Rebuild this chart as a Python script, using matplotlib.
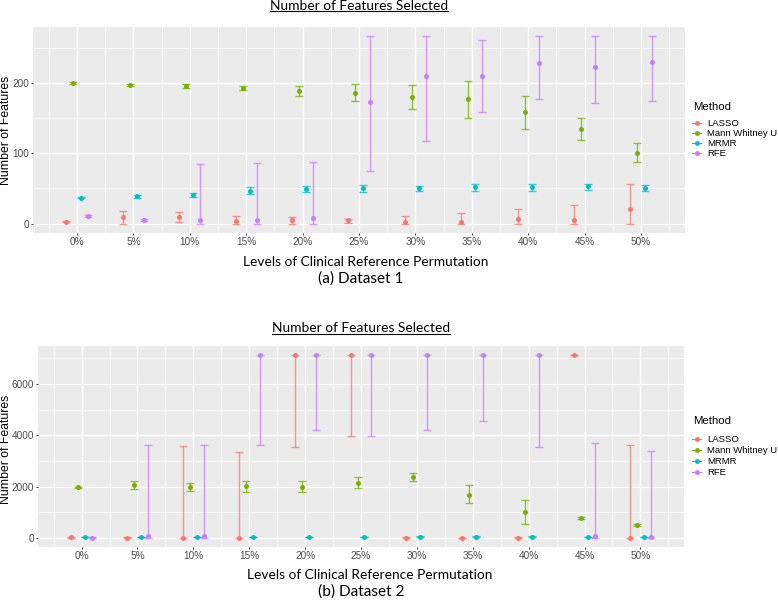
import matplotlib
matplotlib.use('Agg')
import matplotlib.pyplot as plt
from matplotlib.lines import Line2D
import numpy as np

# ---------------- data ----------------
levels = ['0%', '5%', '10%', '15%', '20%', '25%', '30%', '35%', '40%', '45%', '50%']
methods = ['LASSO', 'Mann Whitney U', 'MRMR', 'RFE']
colors = ['#F8766D', '#7CAE00', '#00BFC4', '#C77CFF']

# Dataset 1
d1_lasso_mean = [3, 9, 10, 4, 5, 5, 2, 2, 7, 5, 21]
d1_lasso_lo = [2, 0, 3, 0, 0, 1, 0, 0, 0, 0, 0]
d1_lasso_hi = [4, 18, 17, 11, 10, 7, 11, 15, 21, 26, 56]
d1_mwu_mean = [200, 197.5, 195.5, 193, 188.5, 186, 180, 176.5, 158, 134, 101]
d1_mwu_lo = [199, 196, 193, 190, 181, 174, 163, 150, 134, 118.5, 87.5]
d1_mwu_hi = [201, 199, 198, 195, 196, 198.5, 197.5, 202.5, 182, 150, 114]
d1_mrmr_mean = [37, 39, 41, 47, 49, 50.5, 50, 52.5, 52.5, 53, 50.5]
d1_mrmr_lo = [36, 37, 38, 42, 45, 45.5, 46, 47, 47, 48, 46]
d1_mrmr_hi = [38, 41, 44, 51.5, 53, 55.5, 54, 57, 57, 57, 55]
d1_rfe_mean = [11, 5, 5, 5, 8, 173, 210, 210, 228, 222, 229]
d1_rfe_lo = [10, 4, 0, 0, 0, 75, 117, 159, 177, 171, 174]
d1_rfe_hi = [12, 6, 85, 86, 88, 266, 266, 261, 266, 266, 266]

# Dataset 2
d2_lasso_mean = [20, 10, 10, 10, 7129, 7129, 10, 0, 10, 7129, 5]
d2_lasso_lo = [10, 0, 0, 0, 3550, 3965, 0, 0, 0, 7129, 0]
d2_lasso_hi = [30, 20, 3590, 3360, 7129, 7129, 20, 10, 20, 7129, 3630]
d2_mwu_mean = [1970, 2070, 2000, 2010, 1985, 2150, 2370, 1685, 1025, 780, 505]
d2_mwu_lo = [1940, 1920, 1810, 1800, 1775, 1930, 2230, 1350, 560, 740, 460]
d2_mwu_hi = [2000, 2200, 2160, 2230, 2205, 2360, 2515, 2050, 1495, 820, 550]
d2_mrmr_mean = [40, 40, 40, 40, 40, 40, 45, 45, 45, 40, 40]
d2_mrmr_lo = [30, 30, 30, 30, 30, 30, 35, 35, 35, 30, 30]
d2_mrmr_hi = [50, 50, 50, 50, 50, 50, 55, 55, 55, 50, 50]
d2_rfe_mean = [10, 75, 60, 7129, 7129, 7129, 7129, 7129, 7129, 60, 45]
d2_rfe_lo = [0, 0, 0, 3640, 4210, 3965, 4210, 4540, 3550, 0, 0]
d2_rfe_hi = [20, 3630, 3610, 7129, 7129, 7129, 7129, 7129, 7129, 3700, 3385]

d1_yticks = [0, 100, 200]
d1_yminor = [50, 150, 250]
d2_yticks = [0, 2000, 4000, 6000]
d2_yminor = [1000, 3000, 5000, 7000]

data1 = [(d1_lasso_mean, d1_lasso_lo, d1_lasso_hi), (d1_mwu_mean, d1_mwu_lo, d1_mwu_hi),
         (d1_mrmr_mean, d1_mrmr_lo, d1_mrmr_hi), (d1_rfe_mean, d1_rfe_lo, d1_rfe_hi)]
data2 = [(d2_lasso_mean, d2_lasso_lo, d2_lasso_hi), (d2_mwu_mean, d2_mwu_lo, d2_mwu_hi),
         (d2_mrmr_mean, d2_mrmr_lo, d2_mrmr_hi), (d2_rfe_mean, d2_rfe_lo, d2_rfe_hi)]

# ---------------- layout ----------------
W, H = 778, 609
fig = plt.figure(figsize=(W / 100, H / 100), dpi=100)
fig.patch.set_facecolor('white')

def fx(px):
    return px / W

def fy(py):
    return 1 - py / H

TICKFONT = 'Liberation Sans'
CAPFONT = ['Lato', 'DejaVu Sans']

ax1 = fig.add_axes([fx(33), fy(233), fx(685) - fx(33), fy(27) - fy(233)])
ax2 = fig.add_axes([fx(38), fy(547), fx(684) - fx(38), fy(346) - fy(547)])

offsets = [-0.1875, -0.0625, 0.0625, 0.1875]


def draw(ax, data, yticks, yminor):
    ax.set_facecolor('#EBEBEB')
    for s in ax.spines.values():
        s.set_visible(False)
    x = np.arange(len(levels))
    for k, (mean, lo, hi) in enumerate(data):
        mean = np.array(mean, float)
        lo = np.array(lo, float)
        hi = np.array(hi, float)
        xs = x + offsets[k]
        cont = ax.errorbar(xs, mean, yerr=[mean - lo, hi - mean], fmt='none',
                           ecolor=colors[k], elinewidth=1.0, capsize=2.6, capthick=1.0,
                           alpha=0.75, zorder=3)
        for lc in cont[2]:
            lc.set_snap(True)
        ax.plot(xs, mean, 'o', color=colors[k], ms=3.6, mec='none', zorder=4)
    ax.set_xticks(x)
    ax.set_xticklabels(levels)
    ax.set_xticks(np.arange(-0.5, len(levels), 1.0), minor=True)
    ax.set_yticks(yticks)
    ax.set_yticks(yminor, minor=True)
    ax.grid(which='major', color='white', lw=1.0)
    ax.grid(which='minor', color='white', lw=0.5)
    ax.set_axisbelow(True)
    ax.tick_params(which='major', length=1.6, width=0.7, color='#333333',
                   labelsize=7.2, labelcolor='#4D4D4D', pad=1.2)
    ax.tick_params(which='minor', length=0)
    for lab in ax.get_xticklabels() + ax.get_yticklabels():
        lab.set_fontfamily(TICKFONT)
    ax.set_xlim(-0.78, len(levels) - 1 + 0.78)


draw(ax1, data1, d1_yticks, d1_yminor)
ax1.set_ylim(-13.3, 279.3)
draw(ax2, data2, d2_yticks, d2_yminor)
ax2.set_ylim(-356, 7485)

# y labels
fig.text(fx(6.5), fy(130), 'Number of Features', rotation=90, ha='center', va='center',
         fontsize=8.8, family=TICKFONT, color='black')
fig.text(fx(6.5), fy(449), 'Number of Features', rotation=90, ha='center', va='center',
         fontsize=8.8, family=TICKFONT, color='black')

# titles / labels / captions
t1 = fig.text(fx(359), fy(9.5), 'Number of Features Selected', ha='center', va='baseline',
              fontsize=9.5, family=CAPFONT, color='black')
t2 = fig.text(fx(361), fy(332), 'Number of Features Selected', ha='center', va='baseline',
              fontsize=9.5, family=CAPFONT, color='black')
xl1 = fig.text(fx(366), fy(266), 'Levels of Clinical Reference Permutation', ha='center',
               va='baseline', fontsize=9.5, family=CAPFONT, color='black')
xl2 = fig.text(fx(370), fy(579), 'Levels of Clinical Reference Permutation', ha='center',
               va='baseline', fontsize=9.5, family=CAPFONT, color='black')
c1 = fig.text(fx(361), fy(283), '(a) Dataset 1', ha='center', va='baseline',
              fontsize=9.5, family=CAPFONT, color='black')
c2 = fig.text(fx(361), fy(596), '(b) Dataset 2', ha='center', va='baseline',
              fontsize=9.5, family=CAPFONT, color='black')

fig.canvas.draw()
renderer = fig.canvas.get_renderer()
for t, target in [(t1, 178), (t2, 178), (xl1, 246), (xl2, 246), (c1, 86), (c2, 87)]:
    w = t.get_window_extent(renderer).width
    t.set_fontsize(t.get_fontsize() * target / w)
fig.canvas.draw()
for t in (t1, t2):
    bb = t.get_window_extent(renderer)
    ybase = t.get_position()[1]
    yline = ybase - 1.8 / H
    fig.add_artist(Line2D([bb.x0 / W, bb.x1 / W], [yline, yline], color='black', lw=0.8,
                          transform=fig.transFigure))

# legends
handles = [Line2D([0], [0], color=c, marker='o', ms=3.5, mec='none', lw=0.8) for c in colors]
for title_y, entries_top, spacing in ((107, 119, 0.12), (420.5, 435, 0.22)):
    fig.text(fx(693), fy(title_y), 'Method', ha='left', va='center',
             family=TICKFONT, fontsize=8.2, color='black')
    leg = fig.legend(handles, methods, loc='upper left', bbox_to_anchor=(fx(692), fy(entries_top)),
                     frameon=False, handlelength=1.0, handletextpad=0.6,
                     labelspacing=spacing, borderaxespad=0, borderpad=0.0,
                     prop={'family': TICKFONT, 'size': 6.8})

fig.savefig('out.png', dpi=100)
